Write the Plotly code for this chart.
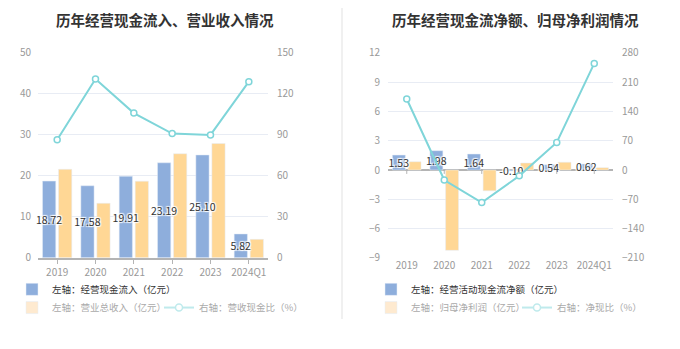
import plotly.graph_objects as go

# ---------------- data ----------------
years = ["2019", "2020", "2021", "2022", "2023", "2024Q1"]

cash_inflow = [18.72, 17.58, 19.91, 23.19, 25.10, 5.82]       # 经营现金流入 (亿元)
revenue = [21.6, 13.3, 18.7, 25.4, 27.9, 4.5]                  # 营业总收入 (亿元)
cash_rev_ratio = [86.5, 131.0, 106.0, 91.0, 90.0, 129.0]        # 营收现金比 (%)

net_cash = [1.53, 1.98, 1.64, -0.10, 0.54, 0.62]               # 经营活动现金流净额 (亿元)
net_profit = [0.85, -8.24, -2.13, 0.72, 0.80, 0.24]            # 归母净利润 (亿元)
net_ratio = [170.0, -24.0, -78.0, -14.0, 66.0, 255.0]          # 净现比 (%)

left_ticks = [0, 10, 20, 30, 40, 50]
right_ticks = [0, 30, 60, 90, 120, 150]
left_ticks2 = [-9, -6, -3, 0, 3, 6, 9, 12]
right_ticks2 = [-210, -140, -70, 0, 70, 140, 210, 280]

# ---------------- style ----------------
W, H = 680, 349
BLUE = "#8eaedc"
ORANGE = "#ffd795"
CYAN = "#7fd5d9"
ORANGE_FADE = "#feead0"
CYAN_FADE = "#bfeaec"
FONT = "Noto Sans CJK SC, sans-serif"
GRID = "#e8ecf4"
AXIS = "#b4b4b4"
TICKC = "#999999"

def px(x):
    return x / W

def py(y):
    return (H - y) / H

BAR_W = 0.345
OFF_A = -0.382
OFF_B = 0.036
shadow = "1px 1px 1px #fff, -1px -1px 1px #fff, 1px -1px 1px #fff, -1px 1px 1px #fff"

fig = go.Figure()

def add_chart(xa, ya, ya2, blue_vals, orange_vals, ratio_vals, names, legs):
    # orange first so that blue labels sit on top
    fig.add_trace(go.Bar(
        x=years, y=orange_vals, xaxis=xa, yaxis=ya, marker_color=ORANGE,
        width=BAR_W, offset=OFF_B, showlegend=False, hoverinfo="skip"))
    fig.add_trace(go.Bar(
        x=years, y=blue_vals, xaxis=xa, yaxis=ya, marker_color=BLUE,
        width=BAR_W, offset=OFF_A, showlegend=False,
        texttemplate="%{y:.2f}", textposition="inside", insidetextanchor="middle",
        textangle=0, constraintext="none", cliponaxis=False,
        insidetextfont=dict(family=FONT, size=10.5, color="#333", shadow=shadow),
        hoverinfo="skip"))
    fig.add_trace(go.Scatter(
        x=years, y=ratio_vals, xaxis=xa, yaxis=ya2, mode="lines+markers",
        line=dict(color=CYAN, width=2),
        marker=dict(size=6, color="white", line=dict(color=CYAN, width=1.5)),
        showlegend=False, hoverinfo="skip"))
    # legend proxies
    fig.add_trace(go.Bar(x=[None], y=[None], xaxis=xa, yaxis=ya, marker_color=BLUE,
                         name=names[0], legend=legs[0], showlegend=True))
    fig.add_trace(go.Bar(x=[None], y=[None], xaxis=xa, yaxis=ya, marker_color=ORANGE_FADE,
                         name=names[1], legend=legs[1], showlegend=True))
    fig.add_trace(go.Scatter(x=[None], y=[None], xaxis=xa, yaxis=ya2, mode="lines+markers",
                             line=dict(color=CYAN_FADE, width=2),
                             marker=dict(size=7, color="white", line=dict(color=CYAN_FADE, width=1.5)),
                             name=names[2], legend=legs[2], showlegend=True))

add_chart("x", "y", "y2", cash_inflow, revenue, cash_rev_ratio,
          ["左轴：经营现金流入（亿元）", "左轴：营业总收入（亿元）", "右轴：营收现金比（%）"],
          ["legend", "legend2", "legend3"])
add_chart("x2", "y3", "y4", net_cash, net_profit, net_ratio,
          ["左轴：经营活动现金流净额（亿元）", "左轴：归母净利润（亿元）", "右轴：净现比（%）"],
          ["legend4", "legend5", "legend6"])

ydom = [py(261), py(47)]
tickfont = dict(family=FONT, size=10, color=TICKC)
xrange = [-0.5, len(years) - 0.5]

fig.update_layout(
    width=W, height=H, margin=dict(l=0, r=0, t=0, b=0),
    paper_bgcolor="white", plot_bgcolor="white",
    barmode="overlay",
    font=dict(family=FONT),
    xaxis=dict(domain=[px(38), px(268)], anchor="y", type="category", range=xrange,
               showline=True, linecolor=AXIS, linewidth=1.5,
               ticks="outside", ticklen=4, tickcolor=AXIS, tickfont=tickfont,
               showgrid=False, fixedrange=True),
    yaxis=dict(domain=ydom, anchor="x", range=[0, 50], tickvals=left_ticks,
               showgrid=True, gridcolor=GRID, zeroline=False, tickfont=tickfont,
               ticklabelstandoff=6, showline=False),
    yaxis2=dict(domain=ydom, anchor="x", overlaying="y", side="right", range=[0, 150],
                tickvals=right_ticks, showgrid=False, zeroline=False, tickfont=tickfont,
                ticklabelstandoff=8),
    xaxis2=dict(domain=[px(388), px(613)], anchor="y3", type="category", range=xrange,
                showline=False, ticks="", tickfont=tickfont, showgrid=False),
    yaxis3=dict(domain=ydom, anchor="x2", range=[-9, 12], tickvals=left_ticks2,
                showgrid=True, gridcolor=GRID, zeroline=True, zerolinecolor=AXIS,
                zerolinewidth=1.5, tickfont=tickfont, ticklabelstandoff=7),
    yaxis4=dict(domain=ydom, anchor="x2", overlaying="y3", side="right", range=[-210, 280],
                tickvals=right_ticks2, showgrid=False, zeroline=False, tickfont=tickfont,
                ticklabelstandoff=8),
)

legfont_dark = dict(family=FONT, size=9.5, color="#333")
legfont_light = dict(family=FONT, size=9.5, color="#aaaaaa")

def leg(x_text, y_center, dark):
    return dict(x=px(x_text - 40), y=py(y_center), xanchor="left", yanchor="middle",
                orientation="h", bgcolor="rgba(0,0,0,0)", borderwidth=0,
                font=legfont_dark if dark else legfont_light, itemwidth=30,
                itemclick=False, itemdoubleclick=False)

fig.update_layout(
    legend=leg(52, 294, True),
    legend2=leg(52, 313, False),
    legend3=leg(199, 313, False),
    legend4=leg(411, 294, True),
    legend5=leg(411, 313, False),
    legend6=leg(557, 313, False),
)

# titles
for xc, txt in [(165, "历年经营现金流入、营业收入情况"), (515, "历年经营现金流净额、归母净利润情况")]:
    fig.add_annotation(x=px(xc), y=py(12), xref="paper", yref="paper", text=f"<b>{txt}</b>",
                       showarrow=False, xanchor="center", yanchor="middle",
                       font=dict(family=FONT, size=14.5, color="#333"))

# separator
fig.add_shape(type="line", xref="paper", yref="paper", x0=px(342), x1=px(342),
              y0=py(325), y1=1, line=dict(color="#f0f0f0", width=2))

# tick marks on the zero line of the right chart (category index positions)
for i in range(len(years)):
    fig.add_shape(type="line", xref="x2", yref="y3", x0=i, x1=i, y0=0, y1=-0.4,
                  line=dict(color=AXIS, width=1))

fig.write_html("out.html", config={"displayModeBar": False})
